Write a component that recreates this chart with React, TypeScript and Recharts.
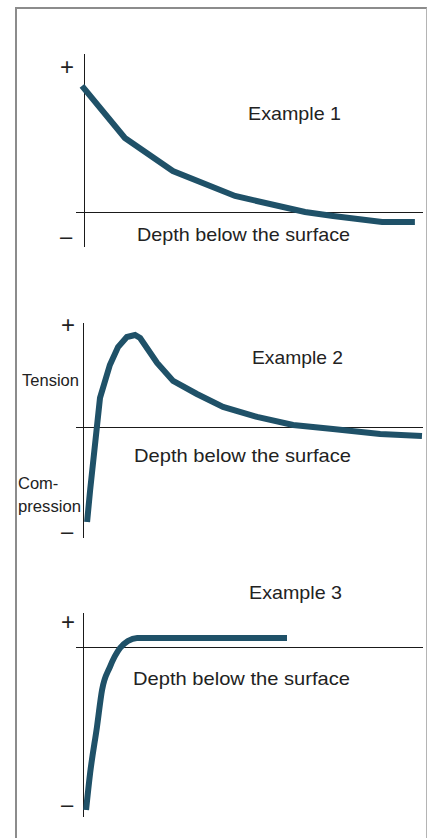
import React from 'react';
import { LineChart, Line, XAxis, YAxis, ReferenceLine } from 'recharts';

// Example 1: stress falls from tension to slight compression
const depth1 = [-0.9, 11.8, 26.0, 44.4, 65.1, 73.4, 87.9, 97.6];
const stress1 = [8.0, 4.72, 2.64, 1.07, 0.06, -0.19, -0.57, -0.57];

// Example 2: compression at the surface, tension peak below
const depth2 = [1.2, 2.1, 5.0, 7.9, 10.3, 12.9, 15.3, 16.8, 21.8, 26.5, 33.5, 41.2, 51.2, 61.8, 73.5, 87.4, 99.7];
const stress2 = [-8.95, -5.9, 2.86, 6.0, 7.71, 8.67, 8.86, 8.57, 6.19, 4.48, 3.24, 2.0, 1.05, 0.29, -0.1, -0.57, -0.76];

// Example 3: strong compression at the surface, then constant slight tension
const depth3 = [0.9, 2.1, 4.1, 5.6, 7.9, 10.9, 13.2, 15.9, 60.0];
const stress3 = [-9.59, -7.41, -4.71, -2.53, -1.18, -0.06, 0.35, 0.53, 0.53];

const titles = ['Example 1', 'Example 2', 'Example 3'];
const axisLabel = 'Depth below the surface';

const toRows = (d: number[], s: number[]) => d.map((depth, i) => ({ depth, stress: s[i] }));

const LINE = '#1f5168';
const AXIS = '#1a1a1a';
const FONT = '"Liberation Sans", Arial, Helvetica, sans-serif';
const PAD = 10;

type PanelProps = {
  rows: { depth: number; stress: number }[];
  left: number;
  top: number;
  width: number;
  height: number;
  xDomain: [number, number];
  yDomain: [number, number];
  curve: 'linear' | 'monotone';
};

const Panel: React.FC<PanelProps> = ({ rows, left, top, width, height, xDomain, yDomain, curve }) => (
  <div style={{ position: 'absolute', left: left - PAD, top: top - PAD }}>
    <LineChart
      width={width + PAD * 2}
      height={height + PAD * 2}
      data={rows}
      margin={{ top: PAD, right: PAD, bottom: PAD, left: PAD }}
    >
      <XAxis dataKey="depth" type="number" domain={xDomain} hide />
      <YAxis type="number" domain={yDomain} hide />
      <ReferenceLine y={0} stroke={AXIS} strokeWidth={1} shapeRendering="crispEdges" />
      <ReferenceLine x={0} stroke={AXIS} strokeWidth={1} shapeRendering="crispEdges" />
      <Line
        dataKey="stress"
        type={curve}
        stroke={LINE}
        strokeWidth={6}
        dot={false}
        activeDot={false}
        isAnimationActive={false}
      />
    </LineChart>
  </div>
);

const App: React.FC = () => {
  const txt = { fontFamily: FONT, fill: '#222' };
  return (
    <div style={{ position: 'absolute', left: 0, top: 0, width: 427, height: 838, background: '#fff', overflow: 'hidden' }}>
      {/* frame */}
      <div
        style={{
          position: 'absolute',
          left: 15,
          top: 7,
          width: 409,
          height: 840,
          borderTop: '2px solid #8c8c8c',
          borderLeft: '2px solid #8c8c8c',
          borderRight: '1px solid #b4b4b4',
        }}
      />

      <Panel rows={toRows(depth1, stress1)} left={76} top={54} width={347} height={193} xDomain={[-2.66, 100]} yDomain={[-2.14, 10]} curve="linear" />
      <Panel rows={toRows(depth2, stress2)} left={76} top={323} width={347} height={215} xDomain={[-2.06, 100]} yDomain={[-10.48, 10]} curve="linear" />
      <Panel rows={toRows(depth3, stress3)} left={76} top={613} width={347} height={204} xDomain={[-2.06, 100]} yDomain={[-10, 2]} curve="monotone" />

      <svg width={427} height={838} style={{ position: 'absolute', left: 0, top: 0, pointerEvents: 'none' }}>
        <text x={248} y={120} fontSize={19} textLength={93} lengthAdjust="spacingAndGlyphs" style={txt}>{titles[0]}</text>
        <text x={137} y={241} fontSize={19} textLength={213} lengthAdjust="spacingAndGlyphs" style={txt}>{axisLabel}</text>
        <text x={67} y={75} fontSize={24} textAnchor="middle" style={txt}>+</text>
        <text x={66} y={244} fontSize={22} textAnchor="middle" style={txt}>–</text>

        <text x={252} y={364} fontSize={19} textLength={91} lengthAdjust="spacingAndGlyphs" style={txt}>{titles[1]}</text>
        <text x={134} y={462} fontSize={19} textLength={217} lengthAdjust="spacingAndGlyphs" style={txt}>{axisLabel}</text>
        <text x={68} y={333} fontSize={24} textAnchor="middle" style={txt}>+</text>
        <text x={67} y={539} fontSize={22} textAnchor="middle" style={txt}>–</text>
        <text x={22} y={386} fontSize={16.5} textLength={57} lengthAdjust="spacingAndGlyphs" style={txt}>Tension</text>
        <text x={18} y={489} fontSize={16.5} style={txt}>Com-</text>
        <text x={18} y={512} fontSize={16.5} textLength={63} lengthAdjust="spacingAndGlyphs" style={txt}>pression</text>

        <text x={249} y={599} fontSize={19} textLength={93} lengthAdjust="spacingAndGlyphs" style={txt}>{titles[2]}</text>
        <text x={133} y={685} fontSize={19} textLength={217} lengthAdjust="spacingAndGlyphs" style={txt}>{axisLabel}</text>
        <text x={68} y={630} fontSize={24} textAnchor="middle" style={txt}>+</text>
        <text x={67} y={812} fontSize={22} textAnchor="middle" style={txt}>–</text>
      </svg>
    </div>
  );
};

export default App;
